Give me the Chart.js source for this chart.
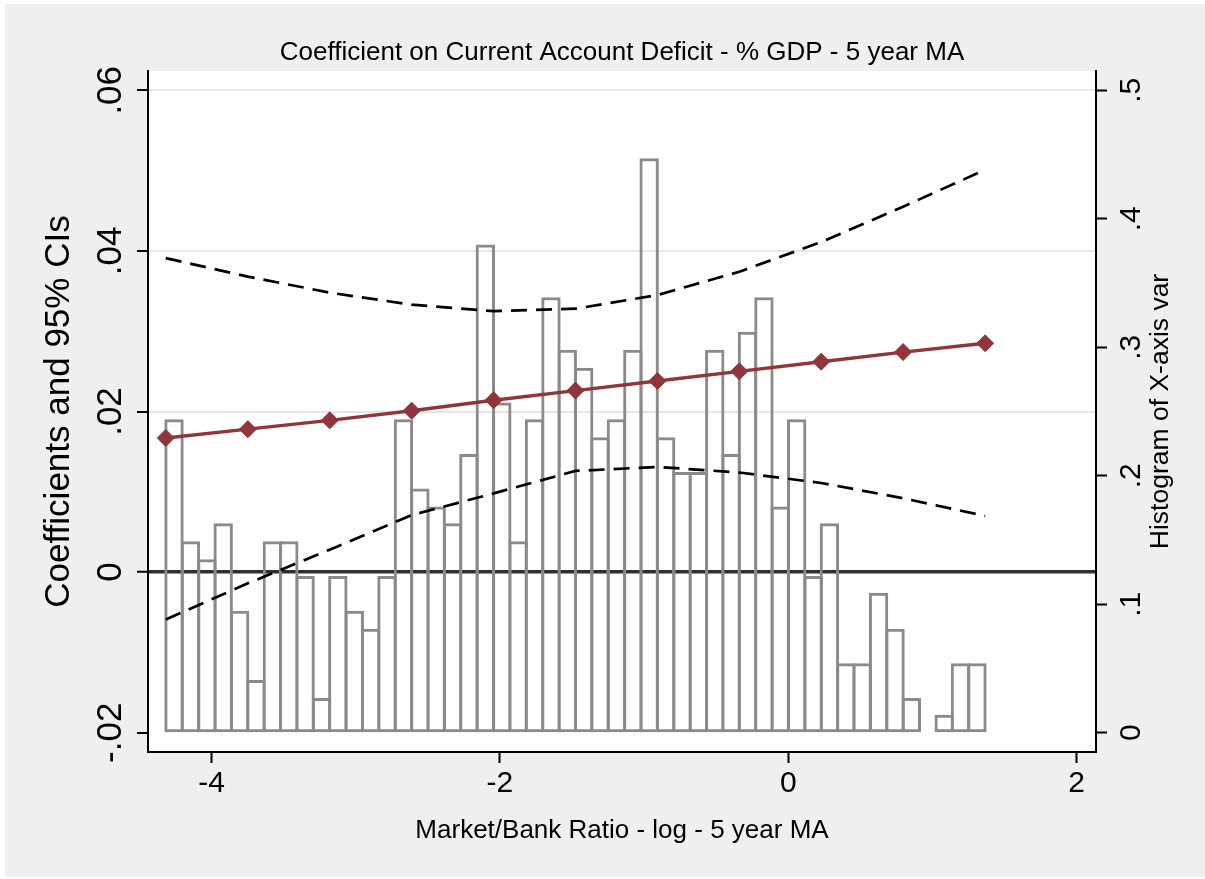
<!DOCTYPE html>
<html>
<head>
<meta charset="utf-8">
<title>Coefficient on Current Account Deficit - % GDP - 5 year MA</title>
<script src="https://cdn.jsdelivr.net/npm/chart.js@4.4.1/dist/chart.umd.min.js"></script>
<style>
  html, body { margin: 0; padding: 0; background: #ffffff; }
  canvas { display: block; }
</style>
</head>
<body>
<canvas id="chart" width="1205" height="879"></canvas>
<script>
// Histogram of the market/bank ratio: bin midpoints and densities (right axis)
const binMidpoints = [
  -4.260, -4.146, -4.032, -3.919, -3.805, -3.692, -3.578, -3.464, -3.351, -3.237,
  -3.124, -3.010, -2.896, -2.783, -2.669, -2.555, -2.442, -2.328, -2.215, -2.101,
  -1.987, -1.874, -1.760, -1.646, -1.533, -1.419, -1.306, -1.192, -1.078, -0.965,
  -0.851, -0.737, -0.624, -0.510, -0.397, -0.283, -0.169, -0.056,  0.058,  0.172,
   0.285,  0.399,  0.512,  0.626,  0.740,  0.853,  0.967,  1.081,  1.194,  1.308
];
const binDensity = [
  0.244, 0.149, 0.135, 0.163, 0.095, 0.041, 0.149, 0.149, 0.122, 0.027,
  0.122, 0.095, 0.081, 0.122, 0.244, 0.190, 0.176, 0.163, 0.217, 0.380,
  0.257, 0.149, 0.244, 0.339, 0.298, 0.284, 0.230, 0.244, 0.298, 0.447,
  0.230, 0.203, 0.203, 0.298, 0.217, 0.312, 0.339, 0.176, 0.244, 0.122,
  0.163, 0.054, 0.054, 0.109, 0.081, 0.027, null,  0.014, 0.054, 0.054
];

// Marginal coefficient and 95% bounds at evaluation points of the ratio (left axis)
const evalPoints  = [-4.317, -3.748, -3.180, -2.612, -2.044, -1.476, -0.908, -0.340, 0.228, 0.796, 1.365];
const coefficient = [0.0167, 0.0178, 0.0189, 0.0201, 0.0214, 0.0226, 0.0238, 0.0250, 0.0262, 0.0274, 0.0285];
const ciUpper     = [0.0391, 0.0368, 0.0348, 0.0333, 0.0325, 0.0328, 0.0345, 0.0374, 0.0411, 0.0455, 0.0501];
const ciLower     = [-0.0059, -0.0014, 0.0028, 0.0071, 0.0098, 0.0126, 0.0131, 0.0124, 0.0111, 0.0092, 0.0070];

// Axis ticks
const xTickValues = [-4, -2, 0, 2];
const xTickLabels = ['-4', '-2', '0', '2'];
const leftTickValues = [-0.02, 0, 0.02, 0.04, 0.06];
const leftTickLabels = ['-.02', '0', '.02', '.04', '.06'];
const rightTickValues = [0, 0.1, 0.2, 0.3, 0.4, 0.5];
const rightTickLabels = ['0', '.1', '.2', '.3', '.4', '.5'];

// Titles
const chartTitle = 'Coefficient on Current Account Deficit - % GDP - 5 year MA';
const xTitle = 'Market/Bank Ratio - log - 5 year MA';
const leftTitle = 'Coefficients and 95% CIs';
const rightTitle = 'Histogram of X-axis var';

const FONT = "'Liberation Sans', Arial, Helvetica, sans-serif";
const RED = '#90353b';
const BAR_GREY = '#8a8a8a';

function labelFor(values, labels, v) {
  const i = values.findIndex(t => Math.abs(t - v) < 1e-9);
  return i >= 0 ? labels[i] : '';
}

// Draws the grey page, the white plot region and the text that reads bottom-to-top
const framePlugin = {
  id: 'frame',
  beforeDraw(chart) {
    const { ctx, chartArea: a } = chart;
    ctx.save();
    ctx.fillStyle = '#efefef';
    ctx.fillRect(5, 4, 1200, 873);
    ctx.fillStyle = '#ffffff';
    ctx.fillRect(a.left, a.top, a.right - a.left, a.bottom - a.top);
    ctx.restore();
  },
  afterDraw(chart) {
    const { ctx, chartArea: a, scales } = chart;
    ctx.save();
    ctx.fillStyle = '#000';

    ctx.font = '26px ' + FONT;
    ctx.textAlign = 'center';
    ctx.textBaseline = 'alphabetic';
    ctx.fillText(chartTitle, (a.left + a.right) / 2, a.top - 11);

    const upward = (text, x, y, size) => {
      ctx.save();
      ctx.translate(x, y);
      ctx.rotate(-Math.PI / 2);
      ctx.font = size + 'px ' + FONT;
      ctx.textAlign = 'center';
      ctx.textBaseline = 'alphabetic';
      ctx.fillText(text, 0, 0);
      ctx.restore();
    };

    const yL = scales.y, yR = scales.y2;
    leftTickValues.forEach((v, i) => upward(leftTickLabels[i], yL.right - 27.5, yL.getPixelForValue(v), 35));
    rightTickValues.forEach((v, i) => upward(rightTickLabels[i], yR.left + 44, yR.getPixelForValue(v), 30));
    upward(rightTitle, yR.left + 72, (a.top + a.bottom) / 2, 26.5);
    ctx.restore();
  }
};

const histogramData = binMidpoints
  .map((x, i) => ({ x, y: binDensity[i] }))
  .filter(p => p.y !== null);

new Chart(document.getElementById('chart'), {
  type: 'line',
  data: {
    datasets: [
      {
        type: 'bar',
        label: 'Histogram',
        data: histogramData,
        xAxisID: 'x',
        yAxisID: 'y2',
        backgroundColor: 'rgba(0,0,0,0)',
        borderColor: BAR_GREY,
        borderWidth: 3,
        borderSkipped: false,
        inflateAmount: 0,
        barPercentage: 1.19,
        categoryPercentage: 1,
        grouped: false,
        order: 3
      },
      {
        label: 'Upper bound',
        data: evalPoints.map((x, i) => ({ x, y: ciUpper[i] })),
        yAxisID: 'y',
        borderColor: '#000',
        borderWidth: 2.7,
        borderDash: [16, 9],
        pointRadius: 0,
        tension: 0,
        fill: false,
        order: 2
      },
      {
        label: 'Lower bound',
        data: evalPoints.map((x, i) => ({ x, y: ciLower[i] })),
        yAxisID: 'y',
        borderColor: '#000',
        borderWidth: 2.7,
        borderDash: [16, 9],
        pointRadius: 0,
        tension: 0,
        fill: false,
        order: 2
      },
      {
        label: 'Coefficient',
        data: evalPoints.map((x, i) => ({ x, y: coefficient[i] })),
        yAxisID: 'y',
        borderColor: RED,
        backgroundColor: RED,
        borderWidth: 3.4,
        pointStyle: 'rectRot',
        pointRadius: 8.5,
        pointBackgroundColor: RED,
        pointBorderColor: RED,
        pointBorderWidth: 1,
        tension: 0,
        fill: false,
        order: 1
      }
    ]
  },
  options: {
    responsive: false,
    animation: false,
    devicePixelRatio: 1,
    layout: { padding: { top: 71, left: 0, right: 0, bottom: 0 } },
    plugins: {
      legend: { display: false },
      tooltip: { enabled: false },
      title: { display: false }
    },
    scales: {
      x: {
        type: 'linear',
        position: 'bottom',
        offset: false,
        min: -4.4404,
        max: 2.1338,
        afterBuildTicks: s => { s.ticks = xTickValues.map(v => ({ value: v })); },
        afterFit: s => { s.height = 127; },
        grid: { offset: false, drawOnChartArea: false, drawTicks: true, tickLength: 11, tickColor: '#000', tickWidth: 2 },
        border: { display: true, color: '#000', width: 2 },
        ticks: {
          font: { family: FONT, size: 30 },
          color: '#000',
          padding: 2.6,
          minRotation: 0,
          maxRotation: 0,
          autoSkip: false,
          callback: v => labelFor(xTickValues, xTickLabels, v)
        },
        title: {
          display: true,
          text: xTitle,
          color: '#000',
          font: { family: FONT, size: 26 },
          padding: { top: 0, bottom: 33 }
        }
      },
      y: {
        type: 'linear',
        position: 'left',
        min: -0.0224,
        max: 0.0624,
        afterBuildTicks: s => { s.ticks = leftTickValues.map(v => ({ value: v })); },
        afterFit: s => { s.width = 148; },
        grid: {
          drawOnChartArea: true,
          drawTicks: true,
          tickLength: 11,
          tickColor: '#000',
          tickWidth: 2,
          color: c => {
            const v = c.tick ? c.tick.value : null;
            if (v === null) return '#e6e6e6';
            if (Math.abs(v) < 1e-9) return '#2f2f2f';
            if (Math.abs(v + 0.02) < 1e-9) return 'rgba(0,0,0,0)';
            return '#e6e6e6';
          },
          lineWidth: c => (c.tick && Math.abs(c.tick.value) < 1e-9 ? 3.5 : 2)
        },
        border: { display: true, color: '#000', width: 2 },
        ticks: { display: false },
        title: {
          display: true,
          text: leftTitle,
          color: '#000',
          font: { family: FONT, size: 35 },
          padding: { top: 38.6, bottom: 0 }
        }
      },
      y2: {
        type: 'linear',
        position: 'right',
        min: -0.015,
        max: 0.515,
        afterBuildTicks: s => { s.ticks = rightTickValues.map(v => ({ value: v })); },
        afterFit: s => { s.width = 109; },
        grid: { drawOnChartArea: false, drawTicks: true, tickLength: 11, tickColor: '#000', tickWidth: 2 },
        border: { display: true, color: '#000', width: 2 },
        ticks: { display: false },
        title: { display: false }
      }
    }
  },
  plugins: [framePlugin]
});
</script>
</body>
</html>
